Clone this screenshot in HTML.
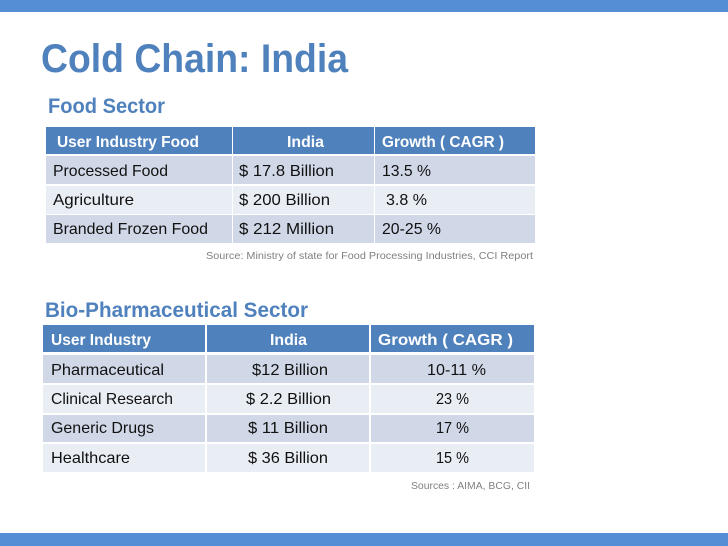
<!DOCTYPE html>
<html><head><meta charset="utf-8"><style>
html,body{margin:0;padding:0;background:#fff;}
svg{display:block;}
text{font-family:"Liberation Sans",sans-serif;}
</style></head><body>
<svg width="728" height="546" viewBox="0 0 728 546" xmlns="http://www.w3.org/2000/svg">
<rect x="0" y="0" width="728" height="12" fill="#558ed5"/>
<rect x="0" y="533" width="728" height="13" fill="#558ed5"/>
<text x="41" y="72" font-size="40" font-weight="bold" fill="#4f81bd" textLength="307" lengthAdjust="spacingAndGlyphs">Cold Chain: India</text>
<text x="48" y="113" font-size="21" font-weight="bold" fill="#4f81bd" textLength="117" lengthAdjust="spacingAndGlyphs">Food Sector</text>

<g>
<rect x="46" y="127" width="186" height="27" fill="#4f81bd"/>
<rect x="233" y="127" width="141" height="27" fill="#4f81bd"/>
<rect x="375" y="127" width="160" height="27" fill="#4f81bd"/>
<rect x="46" y="156" width="186" height="28" fill="#d0d8e8"/>
<rect x="233" y="156" width="141" height="28" fill="#d0d8e8"/>
<rect x="375" y="156" width="160" height="28" fill="#d0d8e8"/>
<rect x="46" y="186" width="186" height="28" fill="#e9edf4"/>
<rect x="233" y="186" width="141" height="28" fill="#e9edf4"/>
<rect x="375" y="186" width="160" height="28" fill="#e9edf4"/>
<rect x="46" y="215" width="186" height="28" fill="#d0d8e8"/>
<rect x="233" y="215" width="141" height="28" fill="#d0d8e8"/>
<rect x="375" y="215" width="160" height="28" fill="#d0d8e8"/>
<g font-size="16" font-weight="bold" fill="#fff">
<text x="57" y="147" textLength="142" lengthAdjust="spacingAndGlyphs">User Industry Food</text>
<text x="287" y="147" textLength="37" lengthAdjust="spacingAndGlyphs">India</text>
<text x="382" y="147" textLength="122" lengthAdjust="spacingAndGlyphs">Growth ( CAGR )</text>
</g>
<g font-size="16" fill="#111">
<text x="53" y="176" textLength="115" lengthAdjust="spacingAndGlyphs">Processed Food</text>
<text x="239" y="176" textLength="95" lengthAdjust="spacingAndGlyphs">$ 17.8 Billion</text>
<text x="382" y="176" textLength="49" lengthAdjust="spacingAndGlyphs">13.5 %</text>
<text x="53" y="205" textLength="81" lengthAdjust="spacingAndGlyphs">Agriculture</text>
<text x="239" y="205" textLength="91" lengthAdjust="spacingAndGlyphs">$ 200 Billion</text>
<text x="386" y="205" textLength="41" lengthAdjust="spacingAndGlyphs">3.8 %</text>
<text x="53" y="234" textLength="155" lengthAdjust="spacingAndGlyphs">Branded Frozen Food</text>
<text x="239" y="234" textLength="95" lengthAdjust="spacingAndGlyphs">$ 212 Million</text>
<text x="382" y="234" textLength="59" lengthAdjust="spacingAndGlyphs">20-25 %</text>
</g>
</g>
<text x="206" y="259" font-size="10.5" fill="#808080" textLength="327" lengthAdjust="spacingAndGlyphs">Source: Ministry of state for Food Processing Industries, CCI Report</text>

<text x="45" y="317" font-size="21" font-weight="bold" fill="#4f81bd" textLength="263" lengthAdjust="spacingAndGlyphs">Bio-Pharmaceutical Sector</text>

<g>
<rect x="43" y="325" width="162" height="27" fill="#4f81bd"/>
<rect x="207" y="325" width="162" height="27" fill="#4f81bd"/>
<rect x="371" y="325" width="163" height="27" fill="#4f81bd"/>
<rect x="43" y="355" width="162" height="28" fill="#d0d8e8"/>
<rect x="207" y="355" width="162" height="28" fill="#d0d8e8"/>
<rect x="371" y="355" width="163" height="28" fill="#d0d8e8"/>
<rect x="43" y="385" width="162" height="28" fill="#e9edf4"/>
<rect x="207" y="385" width="162" height="28" fill="#e9edf4"/>
<rect x="371" y="385" width="163" height="28" fill="#e9edf4"/>
<rect x="43" y="415" width="162" height="27" fill="#d0d8e8"/>
<rect x="207" y="415" width="162" height="27" fill="#d0d8e8"/>
<rect x="371" y="415" width="163" height="27" fill="#d0d8e8"/>
<rect x="43" y="444" width="162" height="28" fill="#e9edf4"/>
<rect x="207" y="444" width="162" height="28" fill="#e9edf4"/>
<rect x="371" y="444" width="163" height="28" fill="#e9edf4"/>
<g font-size="16" font-weight="bold" fill="#fff">
<text x="51" y="345" textLength="100" lengthAdjust="spacingAndGlyphs">User Industry</text>
<text x="270" y="345" textLength="37" lengthAdjust="spacingAndGlyphs">India</text>
<text x="378" y="345" textLength="135" lengthAdjust="spacingAndGlyphs">Growth    ( CAGR )</text>
</g>
<g font-size="16" fill="#111">
<text x="51" y="375" textLength="113" lengthAdjust="spacingAndGlyphs">Pharmaceutical</text>
<text x="252" y="375" textLength="76" lengthAdjust="spacingAndGlyphs">$12 Billion</text>
<text x="427" y="375" textLength="59" lengthAdjust="spacingAndGlyphs">10-11 %</text>
<text x="51" y="404" textLength="122" lengthAdjust="spacingAndGlyphs">Clinical Research</text>
<text x="246" y="404" textLength="85" lengthAdjust="spacingAndGlyphs">$ 2.2 Billion</text>
<text x="436" y="404" textLength="33" lengthAdjust="spacingAndGlyphs">23 %</text>
<text x="51" y="433" textLength="103" lengthAdjust="spacingAndGlyphs">Generic Drugs</text>
<text x="248" y="433" textLength="80" lengthAdjust="spacingAndGlyphs">$ 11 Billion</text>
<text x="436" y="433" textLength="33" lengthAdjust="spacingAndGlyphs">17 %</text>
<text x="51" y="463" textLength="79" lengthAdjust="spacingAndGlyphs">Healthcare</text>
<text x="248" y="463" textLength="80" lengthAdjust="spacingAndGlyphs">$ 36 Billion</text>
<text x="436" y="463" textLength="33" lengthAdjust="spacingAndGlyphs">15 %</text>
</g>
</g>
<text x="411" y="489" font-size="10.5" fill="#808080" textLength="119" lengthAdjust="spacingAndGlyphs">Sources : AIMA, BCG, CII</text>
</svg>
</body></html>
